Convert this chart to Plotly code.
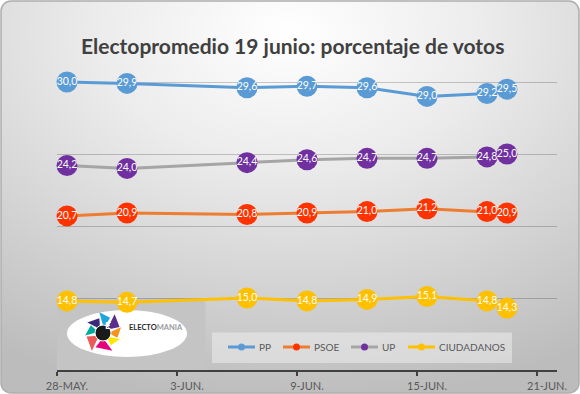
import base64
import math
import pandas as pd
import plotly.graph_objects as go

# ---------------- data ----------------
dates = ["2016-05-28", "2016-05-31", "2016-06-06", "2016-06-09",
         "2016-06-12", "2016-06-15", "2016-06-18", "2016-06-19"]
series_names = ["PP", "PSOE", "UP", "CIUDADANOS"]
pp = [30.0, 29.9, 29.6, 29.7, 29.6, 29.0, 29.2, 29.5]
psoe = [20.7, 20.9, 20.8, 20.9, 21.0, 21.2, 21.0, 20.9]
up = [24.2, 24.0, 24.4, 24.6, 24.7, 24.7, 24.8, 25.0]
ciudadanos = [14.8, 14.7, 15.0, 14.8, 14.9, 15.1, 14.8, 14.3]
tick_dates = ["2016-05-28", "2016-06-03", "2016-06-09", "2016-06-15", "2016-06-21"]
tick_labels = ["28-MAY.", "3-JUN.", "9-JUN.", "15-JUN.", "21-JUN."]
title_text = "Electopromedio 19 junio: porcentaje de votos"

values = [pp, psoe, up, ciudadanos]
line_colors = ["#5B9BD5", "#ED7D31", "#A5A5A5", "#FFC000"]
marker_colors = ["#5B9BD5", "#FF3300", "#7030A0", "#FFC000"]

# ---------------- geometry helpers ----------------
W_FIG, H_FIG = 580, 394
L, T, R, B = 57, 10, 23, 24
PW, PH = W_FIG - L - R, H_FIG - T - B


def px(x):
    return (x - L) / PW


def py(y):
    return (T + PH - y) / PH


# points sit in the middle of each day slot (Excel date axis)
xpts = pd.to_datetime(dates) + pd.Timedelta(hours=12)

fig = go.Figure()
for name, vals, lc, mc in zip(series_names, values, line_colors, marker_colors):
    fig.add_trace(go.Scatter(
        x=xpts, y=vals, name=name, mode="lines+markers+text",
        line=dict(color=lc, width=3),
        marker=dict(color=mc, size=21, line=dict(width=0)),
        text=[f"{v:.1f}".replace(".", ",") for v in vals],
        textposition="middle center",
        textfont=dict(color="white", size=10.5, family="Lato"),
        showlegend=False, cliponaxis=False, hoverinfo="skip",
    ))

# ---------------- background (radial gradient, rounded frame) ----------------
svg = f"""<svg xmlns='http://www.w3.org/2000/svg' width='{W_FIG}' height='{H_FIG}'>
<defs><radialGradient id='g' cx='0.5' cy='0.08' r='0.95' fx='0.5' fy='0.08'>
<stop offset='0' stop-color='#ffffff'/><stop offset='0.35' stop-color='#ececec'/>
<stop offset='1' stop-color='#bcbcbc'/></radialGradient></defs>
<rect x='1' y='1' width='{W_FIG-2}' height='{H_FIG-2}' rx='10' ry='10' fill='url(#g)' stroke='#adadad' stroke-width='1.5'/>
</svg>"""
src = "data:image/svg+xml;base64," + base64.b64encode(svg.encode()).decode()

shapes = []
annotations = []

# ---------------- logo block ----------------
shapes.append(dict(type="rect", xref="paper", yref="paper", layer="below",
                   x0=px(57), x1=px(205.5), y0=py(370), y1=py(298.5),
                   fillcolor="#c4c4c4", line=dict(width=0)))
shapes.append(dict(type="circle", xref="paper", yref="paper", layer="below",
                   x0=px(67), x1=px(187), y0=py(357), y1=py(310),
                   fillcolor="white", line=dict(width=0)))
cx, cy = 103, 333
petals = [(65, 100, 21, "#1ea5dc"), (20, 58, 22, "#5a2d8c"), (-18, 18, 19, "#f7941d"),
          (-58, -20, 18, "#ffe600"), (-118, -62, 20, "#e5007d"), (-168, -122, 21, "#ec5a5a"),
          (148, 188, 18, "#00a99d"), (104, 146, 19, "#3b2a7a")]
for a1, a2, r, col in petals:
    p0 = (cx + 5 * math.cos(math.radians((a1 + a2) / 2)), cy - 5 * math.sin(math.radians((a1 + a2) / 2)))
    p1 = (cx + r * 0.8 * math.cos(math.radians(a1)), cy - r * 0.8 * math.sin(math.radians(a1)))
    p2 = (cx + r * math.cos(math.radians(a2)), cy - r * math.sin(math.radians(a2)))
    path = f"M{px(p0[0])},{py(p0[1])} L{px(p1[0])},{py(p1[1])} L{px(p2[0])},{py(p2[1])} Z"
    shapes.append(dict(type="path", xref="paper", yref="paper", layer="below", path=path,
                       fillcolor=col, line=dict(width=0)))
shapes.append(dict(type="circle", xref="paper", yref="paper", layer="below",
                   x0=px(cx - 8), x1=px(cx + 8), y0=py(cy + 8), y1=py(cy - 8),
                   fillcolor="#1a1a1a", line=dict(color="white", width=1)))
annotations.append(dict(xref="paper", yref="paper", x=px(cx), y=py(cy), text="<b>E</b>",
                        showarrow=False, font=dict(color="white", size=10, family="Lato")))
annotations.append(dict(xref="paper", yref="paper", x=px(127), y=py(334), xanchor="left",
                        text="<b>ELECTO</b><span style='color:#9a9a9a'><b>MANIA</b></span>",
                        showarrow=False, font=dict(color="#2a2a2a", size=7.5, family="Lato")))

# ---------------- legend ----------------
shapes.append(dict(type="rect", xref="paper", yref="paper", layer="below",
                   x0=px(212), x1=px(512), y0=py(363), y1=py(332.5),
                   fillcolor="rgba(255,255,255,0.38)", line=dict(width=0)))
leg_x = [228, 283, 351, 408]
ly = 347
for name, lx, lc, mc in zip(series_names, leg_x, line_colors, marker_colors):
    shapes.append(dict(type="line", xref="paper", yref="paper", x0=px(lx), x1=px(lx + 27),
                       y0=py(ly), y1=py(ly), line=dict(color=lc, width=3)))
    shapes.append(dict(type="circle", xref="paper", yref="paper",
                       x0=px(lx + 10), x1=px(lx + 17), y0=py(ly + 3.5), y1=py(ly - 3.5),
                       fillcolor=mc, line=dict(width=0)))
    annotations.append(dict(xref="paper", yref="paper", x=px(lx + 28.5), y=py(ly),
                            xanchor="left", yanchor="middle", text=name, showarrow=False,
                            font=dict(color="#595959", size=10, family="Lato")))

# ---------------- title ----------------
annotations.append(dict(xref="paper", yref="paper", x=px(292.8), y=py(46), text=f"<b>{title_text}</b>",
                        showarrow=False, xanchor="center", yanchor="middle",
                        font=dict(color="#404040", size=21, family="Lato")))

# invisible helper trace so the label axis is active
fig.add_trace(go.Scatter(x=[xpts[0]], y=[None], xaxis="x2", yaxis="y", showlegend=False,
                         hoverinfo="skip", mode="markers"))

fig.update_layout(
    width=W_FIG, height=H_FIG, autosize=False,
    margin=dict(l=L, r=R, t=T, b=B, pad=0),
    paper_bgcolor="white", plot_bgcolor="rgba(0,0,0,0)",
    images=[dict(source=src, xref="paper", yref="paper", x=px(0), y=py(0),
                 sizex=W_FIG / PW, sizey=H_FIG / PH, xanchor="left", yanchor="top",
                 sizing="stretch", layer="below")],
    shapes=shapes, annotations=annotations,
    xaxis=dict(type="date", range=["2016-05-28", "2016-06-22"],
               tickvals=tick_dates, showticklabels=False,
               showgrid=False, zeroline=False, showline=True, linecolor="#404040", linewidth=1.5,
               ticks="outside", ticklen=4, tickwidth=1.5, tickcolor="#404040", automargin=False),
    xaxis2=dict(type="date", overlaying="x", matches="x", anchor="y", side="bottom",
                tickvals=tick_dates, ticktext=tick_labels, ticklabelshift=10,
                showgrid=False, zeroline=False, showline=False,
                ticks="outside", ticklen=6, tickcolor="rgba(0,0,0,0)", automargin=False,
                tickfont=dict(color="#595959", size=11, family="Lato")),
    yaxis=dict(range=[10, 35], dtick=5, tick0=10, showticklabels=False, ticks="",
               showgrid=True, gridcolor="rgba(0,0,0,0.2)", gridwidth=1, zeroline=False,
               showline=False, automargin=False),
    showlegend=False,
)

fig.write_html("out.html", config={"displayModeBar": False},
               post_script="document.body.style.margin='0';document.body.style.overflow='hidden';")
